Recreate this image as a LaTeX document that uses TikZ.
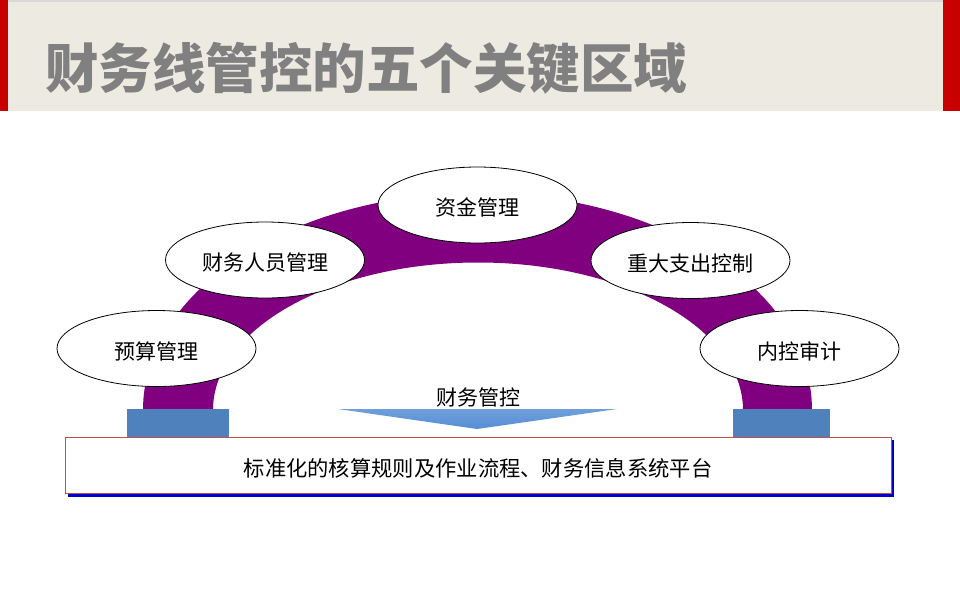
\documentclass[tikz,border=0pt]{standalone}
\usepackage{fontspec}
\usepackage{xcolor}
\usepackage{tikz}
\usetikzlibrary{shapes.geometric,positioning}
\newfontfamily\cjk{Noto Sans CJK SC}
\definecolor{archpurple}{RGB}{128,0,128}
\definecolor{footblue}{RGB}{79,129,189}
\definecolor{barbeige}{RGB}{237,234,226}
\definecolor{barred}{RGB}{200,0,0}
\definecolor{titlegray}{RGB}{128,128,128}
\definecolor{framered}{RGB}{192,80,77}
\definecolor{shadowblue}{RGB}{0,0,204}
\definecolor{arrowblue}{RGB}{85,142,213}
\tikzset{
  area/.style={draw, ellipse, fill=white, line width=0.8pt, inner sep=0pt,
               minimum width=199pt, minimum height=76pt,
               text height=24pt, text depth=3pt,
               font=\cjk\fontsize{21}{25}\selectfont},
  foot/.style={fill=footblue, inner sep=0pt, minimum height=28pt},
  platform/.style={draw=framered, fill=white, line width=0.8pt, inner sep=0pt,
                   minimum width=826pt, minimum height=56pt,
                   text height=25pt, text depth=3pt,
                   font=\cjk\fontsize{21.3}{25}\selectfont},
}

\begin{document}
\begin{tikzpicture}[x=1pt, y=-1pt]
  \useasboundingbox (0,0) rectangle (960,600);
  % title bar
  \fill[barbeige] (0,0) rectangle (960,111);
  \fill[black!15] (0,0) rectangle (960,2);
  \fill[barred] (0,0) rectangle (8,111);
  \fill[barred] (943,0) rectangle (960,111);
  \node[anchor=base west, inner sep=0pt, text=titlegray,
        font=\cjk\bfseries\fontsize{53.5}{60}\selectfont] (title) at (45,88)
        {财务线管控的五个关键区域};
  % arch
  \fill[archpurple] (143,410) arc[start angle=180, end angle=360, x radius=334.5, y radius=217]
    -- (743,410) arc[start angle=360, end angle=180, x radius=265, y radius=147.5] -- cycle;
  \node[area] (budget) at (156.5,348.5) {预算管理};
  \node[area] (staff)  at (265,260)     {财务人员管理};
  \node[area] (fund)   at (477.5,205)   {资金管理};
  \node[area] (spend)  at (690.5,260.5) {重大支出控制};
  \node[area] (audit)  at (799.5,348.5) {内控审计};
  % base
  \node[foot, minimum width=102pt] (footL) at (178,423) {};
  \node[foot, minimum width=97pt]  (footR) at (781.5,423) {};
  \node[font=\cjk\fontsize{21}{25}\selectfont, inner sep=0pt] (ctrl) at (478,397) {财务管控};
  \shade[top color=arrowblue!85, bottom color=arrowblue] (338,409) -- (617,409) -- (477,429) -- cycle;
  \fill[shadowblue] (68,440) rectangle (894,497);
  \node[platform] (plat) at (478,465) {标准化的核算规则及作业流程、财务信息系统平台};
\end{tikzpicture}
\end{document}
